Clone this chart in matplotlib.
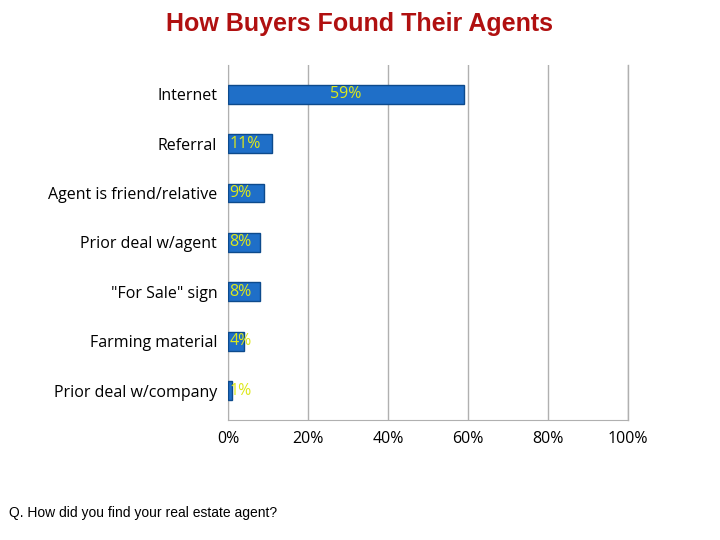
import matplotlib.pyplot as plt

categories = ["Internet", "Referral", "Agent is friend/relative", "Prior deal w/agent",
              '"For Sale" sign', "Farming material", "Prior deal w/company"]
values = [59, 11, 9, 8, 8, 4, 1]
ticks = [0, 20, 40, 60, 80, 100]

fig = plt.figure(figsize=(7.2, 5.4), dpi=100)
ax = fig.add_axes([0.317, 0.222, 0.555, 0.658])

y = list(range(len(categories)))[::-1]
ax.barh(y, values, height=0.38, color="#1f6fc8", edgecolor="#0d4a8c", linewidth=1, zorder=3)
for yi, v in zip(y, values):
    xpos = v / 2 if v > 20 else 0.3
    ax.text(xpos, yi, f"{v}%", color="#dde81a", fontsize=11.5,
            ha="center" if v > 20 else "left", va="center", zorder=4,
            family="Open Sans")

ax.set_xlim(0, 100)
ax.set_ylim(-0.6, 6.6)
ax.set_xticks(ticks)
ax.set_xticklabels([f"{t}%" for t in ticks], fontsize=11.5, family="Open Sans")
ax.set_yticks(y)
ax.set_yticklabels(categories, fontsize=11.5, family="Open Sans")
ax.tick_params(length=0, pad=8)
ax.grid(axis="x", color="#b0b0b0", linewidth=1, zorder=0)
ax.axvline(100, color="#b0b0b0", linewidth=1, zorder=0, clip_on=False)
for s in ["top", "right"]:
    ax.spines[s].set_visible(False)
ax.spines["left"].set_color("#b0b0b0")
ax.spines["bottom"].set_color("#b0b0b0")

fig.text(0.5, 0.955, "How Buyers Found Their Agents", ha="center", va="center",
         color="#b01010", fontsize=18, fontweight="bold", family="Liberation Sans")
fig.text(0.012, 0.05, "Q. How did you find your real estate agent?", ha="left", va="center",
         fontsize=10, family="Liberation Sans")

fig.savefig("out.png", dpi=100)
